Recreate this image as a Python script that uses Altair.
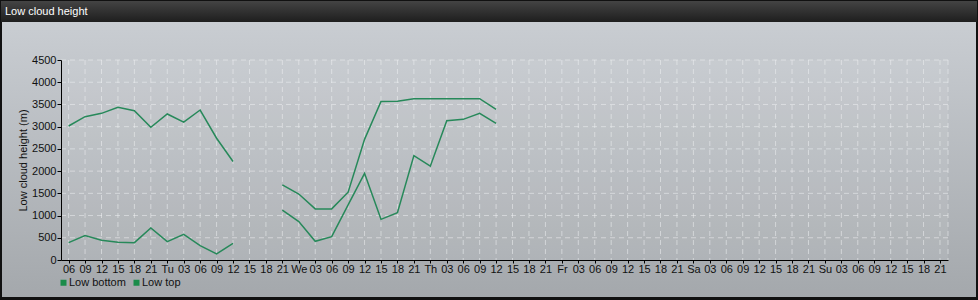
import altair as alt
import pandas as pd

# hours since Monday 00:00, every 3 h
hours = [6, 9, 12, 15, 18, 21, 24, 27, 30, 33, 36, 39, 42, 45, 48, 51, 54, 57, 60,
         63, 66, 69, 72, 75, 78, 81, 84]
low_top = [3015, 3225, 3300, 3435, 3360, 2985, 3285, 3100, 3375, 2740, 2215,
           None, None,
           1690, 1485, 1150, 1150, 1525, 2715, 3565, 3570, 3630, 3630, 3630, 3630, 3630, 3390]
low_bottom = [390, 548, 443, 398, 390, 720, 413, 578, 323, 135, 375,
              None, None,
              1120, 863, 420, 525, 1240, 1950, 915, 1065, 2350, 2110, 3135, 3165, 3300, 3075]

tick_hours = list(range(6, 166, 3))
tick_labels = []
day_names = {24: "Tu", 48: "We", 72: "Th", 96: "Fr", 120: "Sa", 144: "Su"}
for h in tick_hours:
    tick_labels.append(day_names.get(h, "%02d" % (h % 24)))
y_ticks = [0, 500, 1000, 1500, 2000, 2500, 3000, 3500, 4000, 4500]

series_names = ["Low bottom", "Low top"]
LINE = "#27895a"
FONT = "Liberation Sans"

rows = []
for name, vals in (("Low bottom", low_bottom), ("Low top", low_top)):
    seg = 0
    prev_none = False
    for h, v in zip(hours, vals):
        if v is None:
            prev_none = True
            continue
        if prev_none:
            seg += 1
            prev_none = False
        rows.append({"hour": h, "value": v, "series": name, "seg": f"{name}-{seg}"})
df = pd.DataFrame(rows)

W, H = 887, 200
PL, PT = 61, 60
one = pd.DataFrame({"a": [0]})

xscale = alt.Scale(domain=[4.61, 166.46], nice=False, zero=False)
yscale = alt.Scale(domain=[0, 4500], nice=False)

label_expr = "[" + ",".join("'%s'" % t for t in tick_labels) + "][round((datum.value-6)/3)]"
xaxis = alt.Axis(values=tick_hours, labelExpr=label_expr, title=None, grid=False,
                 domainColor="#000000", tickColor="#000000", tickSize=3,
                 labelFontSize=11, labelFont=FONT, labelColor="#111111",
                 labelPadding=0, labelOverlap=False, labelFlush=False,
                 labelBound=False, zindex=1)
yaxis = alt.Axis(values=y_ticks, format="d", title="Low cloud height (m)", grid=False,
                 domainColor="#000000", tickColor="#000000", tickSize=4,
                 labelFontSize=11, labelFont=FONT, labelColor="#111111",
                 labelPadding=1, labelOverlap=False, titleFont=FONT, titleFontSize=11,
                 titleFontWeight="normal", titleColor="#111111",
                 titlePadding=3, zindex=1)

outer = alt.Chart(one).mark_rect(color="#111111").encode(
    x=alt.value(-PL), x2=alt.value(978 - PL), y=alt.value(-PT), y2=alt.value(300 - PT))
titlebar = alt.Chart(one).mark_rect(
    color=alt.LinearGradient(gradient="linear", x1=0, x2=0, y1=0, y2=1,
                             stops=[alt.GradientStop(color="#444444", offset=0),
                                    alt.GradientStop(color="#1e1e1e", offset=1)])
).encode(x=alt.value(1 - PL), x2=alt.value(977 - PL), y=alt.value(1 - PT), y2=alt.value(22 - PT))
panel = alt.Chart(one).mark_rect(
    color=alt.LinearGradient(gradient="linear", x1=0, x2=0, y1=0, y2=1,
                             stops=[alt.GradientStop(color="#c9cdd2", offset=0),
                                    alt.GradientStop(color="#a4a8ac", offset=1)])
).encode(x=alt.value(2 - PL), x2=alt.value(976 - PL), y=alt.value(22 - PT), y2=alt.value(297 - PT))
plotbg = alt.Chart(one).mark_rect(color="#ffffff", opacity=0.08).encode(
    x=alt.value(0), x2=alt.value(W), y=alt.value(0), y2=alt.value(H))
title = alt.Chart(one).mark_text(
    text="Low cloud height", color="#ffffff", font=FONT, fontSize=11,
    align="left", baseline="middle").encode(x=alt.value(5 - PL), y=alt.value(12 - PT))

grid_style = dict(color="#eef0f2", strokeDash=[5, 4], strokeWidth=1, opacity=0.55)
vgrid = alt.Chart(pd.DataFrame({"hour": tick_hours + [166.46]})).mark_rule(**grid_style).encode(
    x=alt.X("hour:Q", scale=xscale, axis=xaxis))
hgrid = alt.Chart(pd.DataFrame({"value": y_ticks[1:]})).mark_rule(**grid_style).encode(
    y=alt.Y("value:Q", scale=yscale, axis=yaxis))

lines = alt.Chart(df).mark_line(strokeWidth=1.5).encode(
    x=alt.X("hour:Q", scale=xscale, axis=xaxis),
    y=alt.Y("value:Q", scale=yscale, axis=yaxis),
    color=alt.Color("series:N", scale=alt.Scale(domain=series_names, range=[LINE, LINE]),
                    legend=alt.Legend(title=None, orient="none", legendX=-3, legendY=217,
                                      direction="horizontal", symbolType="square",
                                      symbolSize=36, symbolFillColor="#1a8c4a",
                                      symbolStrokeColor="#1a8c4a", symbolStrokeWidth=0,
                                      labelFont=FONT, labelFontSize=11, labelColor="#111111",
                                      labelOffset=0, columnPadding=5, padding=0)),
    detail="seg:N",
)

chart = alt.layer(outer, titlebar, panel, plotbg, title, vgrid, hgrid, lines).properties(
    width=W, height=H,
    autosize=alt.AutoSizeParams(type="none"),
    padding={"left": PL, "top": PT, "right": 978 - PL - W, "bottom": 300 - PT - H},
    background="#111111",
).configure_view(stroke=None)

chart.save("out.html", embed_options={"renderer": "svg", "actions": False})
